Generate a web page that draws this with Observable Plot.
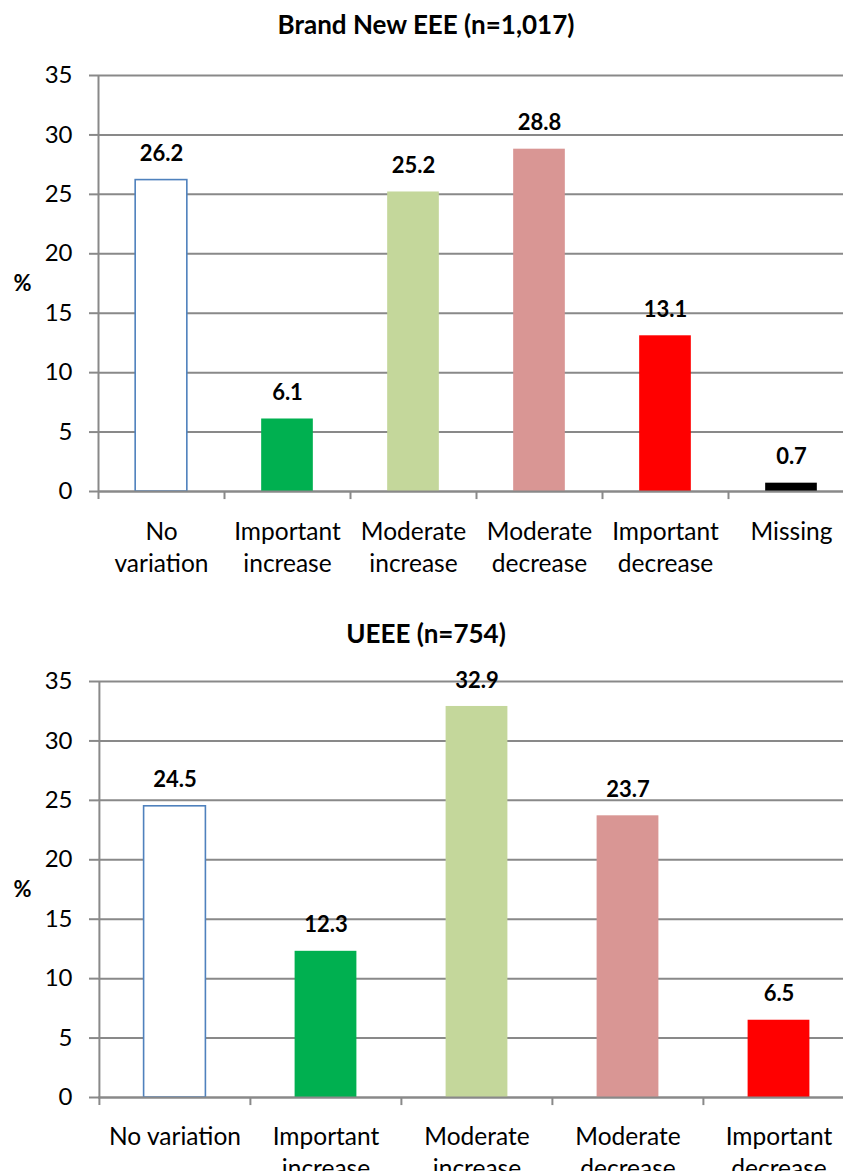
<!DOCTYPE html>
<html>
<head>
<meta charset="utf-8">
<script src="https://cdn.jsdelivr.net/npm/d3@7"></script>
<script src="https://cdn.jsdelivr.net/npm/@observablehq/plot@0.6"></script>
<style>
  html, body { margin: 0; padding: 0; background: #fff; }
  body { width: 843px; height: 1171px; overflow: hidden; position: relative; }
  .title { position: absolute; left: 0; width: 852px; height: 48px;
           font: bold 26px Lato, sans-serif; line-height: 48px;
           text-align: center; color: #000; white-space: nowrap; }
  .chart { position: absolute; left: 0; }
</style>
</head>
<body>
<div id="chart1" class="chart" style="top:40px"></div>
<div id="chart2" class="chart" style="top:650px"></div>
<div class="title" style="top:0px">Brand New EEE (n=1,017)</div>
<div class="title" style="top:609px">UEEE (n=754)</div>
<script>
// Brand new equipment: change reported, share of respondents (%)
const newCategories = ["No variation", "Important increase", "Moderate increase", "Moderate decrease", "Important decrease", "Missing"];
const newLabels = ["No\nvariation", "Important\nincrease", "Moderate\nincrease", "Moderate\ndecrease", "Important\ndecrease", "Missing"];
const newValues = [26.2, 6.1, 25.2, 28.8, 13.1, 0.7];

// Used equipment
const usedCategories = ["No variation", "Important increase", "Moderate increase", "Moderate decrease", "Important decrease"];
const usedLabels = ["No variation", "Important\nincrease", "Moderate\nincrease", "Moderate\ndecrease", "Important\ndecrease"];
const usedValues = [24.5, 12.3, 32.9, 23.7, 6.5];

const yTicks = [0, 5, 10, 15, 20, 25, 30, 35];

// Fill per category
const paletteCategories = ["No variation", "Important increase", "Moderate increase", "Moderate decrease", "Important decrease", "Missing"];
const paletteColors = ["#ffffff", "#00b050", "#c4d79b", "#d99694", "#ff0000", "#000000"];

function barChart(categories, labels, values, {height, marginTop, marginBottom, labelOffset}) {
  const rows = categories.map((c, i) => ({category: c, label: labels[i], value: values[i]}));
  const width = 860, left = 98, right = 854;
  const step = (right - left) / categories.length;
  const inset = step * 0.295;
  const grey = "#898989";
  const font = "Lato, sans-serif";
  return Plot.plot({
    width, height,
    marginLeft: left, marginRight: width - right, marginTop, marginBottom,
    style: {fontFamily: font, fontSize: "22px", color: "#000", background: "transparent", maxWidth: "none", overflow: "visible"},
    x: {domain: categories, padding: 0, axis: null},
    y: {domain: [0, 35], axis: null},
    color: {domain: paletteCategories, range: paletteColors},
    marks: [
      Plot.ruleY(yTicks, {stroke: grey, strokeWidth: 2}),
      Plot.axisY(yTicks, {label: null, tickSize: 9, tickPadding: 17, stroke: grey, strokeWidth: 2, fontSize: 24, fill: "#000"}),
      Plot.barY(rows, {
        x: "category", y: "value", fill: "category",
        stroke: d => d.category === "No variation" ? "#4f81bd" : "none",
        strokeWidth: 1.6, insetLeft: inset, insetRight: inset
      }),
      // y axis line and category boundary ticks
      Plot.ruleX([categories[0]], {dx: -step / 2, y1: -0.68, y2: 35, stroke: grey, strokeWidth: 2}),
      Plot.ruleX(categories.slice(1), {dx: -step / 2, y1: -0.68, y2: 0, stroke: grey, strokeWidth: 2}),
      Plot.ruleY([0], {stroke: grey, strokeWidth: 2}),
      Plot.text(rows, {x: "category", y: "value", text: d => d.value.toFixed(1), dy: -26,
        fontWeight: "bold", fontSize: 22, fill: "#000"}),
      Plot.text(rows, {x: "category", text: "label", frameAnchor: "bottom", lineAnchor: "top",
        dy: labelOffset, lineHeight: 1.31, fontSize: 24.5, fill: "#000"}),
      Plot.text(["%"], {frameAnchor: "left", textAnchor: "middle", dx: -76,
        fontWeight: "bold", fontSize: 22, fill: "#000"})
    ]
  });
}

document.getElementById("chart1").append(
  barChart(newCategories, newLabels, newValues, {height: 560, marginTop: 35, marginBottom: 109, labelOffset: 25.5})
);
document.getElementById("chart2").append(
  barChart(usedCategories, usedLabels, usedValues, {height: 527, marginTop: 31, marginBottom: 80, labelOffset: 25})
);
</script>
</body>
</html>
